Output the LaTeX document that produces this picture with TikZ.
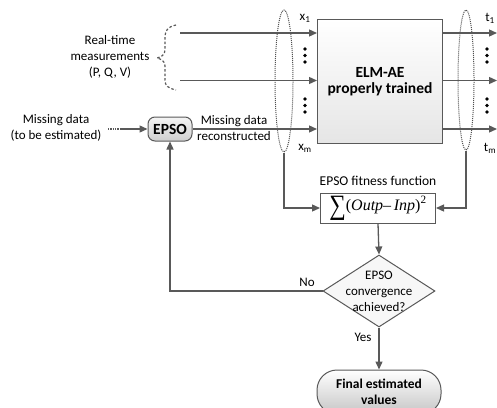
\documentclass[tikz,border=0pt]{standalone}
\usepackage{graphicx}
\usepackage{fontspec}
\setmainfont{Carlito}
\newfontfamily\formulafont{Liberation Serif}
\usetikzlibrary{arrows.meta,shapes.geometric,calc}
\definecolor{ln}{HTML}{595959}
\tikzset{
  conn/.style={draw=ln, line width=1.3pt},
  arr/.style={conn, -{Triangle[length=8pt,width=7pt]}},
  lbl/.style={font=\fontsize{13}{16}\selectfont, align=center, inner sep=0},
  boxline/.style={draw=ln, line width=1pt},
  ring/.style={ellipse, draw=ln!90!black, line width=1pt, densely dotted, inner sep=0},
  dotmark/.style={fill=black},
}
% Enlarged summation sign, vertically centred on the formula
\newcommand{\bigsum}{\raisebox{-0.22\height}{\scalebox{1.45}[1.75]{∑}}}
\begin{document}
\begin{tikzpicture}[x=1pt,y=-1pt]
\useasboundingbox (0,0) rectangle (497,407);

% ELM-AE block
\node[boxline, top color=white, bottom color=black!10, minimum width=125pt,
      minimum height=124pt, inner sep=0, anchor=north west, align=center,
      font=\bfseries\fontsize{15.5}{16.5}\selectfont] (elm) at (317,19)
      {ELM-AE\\properly trained};

% EPSO block
\node[boxline, rounded corners=7pt, top color=gray!8, bottom color=gray!38,
      minimum width=44pt, minimum height=24pt, inner sep=0,
      font=\bfseries\fontsize{15.5}{16}\selectfont] (epso) at (170,129) {EPSO};

% Fitness function block
\node[boxline, fill=white, minimum width=115pt, minimum height=30pt, inner sep=0,
      font=\formulafont\fontsize{16}{16}\selectfont]
      (fit) at (378,208)
      {\bigsum(\textit{Outp}–\,\textit{Inp})\textsuperscript{2}};
\node[lbl, font=\fontsize{13.5}{15}\selectfont] (fitlbl) at (378,181) {EPSO fitness function};

% Convergence test
\node[diamond, boxline, fill=gray!6, minimum width=112pt, minimum height=72pt,
      inner sep=0] (dec) at (379,291) {};
\node[lbl] (dectxt) at (dec.center) {EPSO\\convergence\\achieved?};

% Final result
\node[boxline, rounded corners=20pt, top color=white, bottom color=gray!45,
      minimum width=124pt, minimum height=44pt, inner sep=0, align=center,
      font=\bfseries\fontsize{13.5}{15.5}\selectfont] (final) at (379,392)
      {Final estimated\\values};

% Grouping ellipses
\node[ring, minimum width=18pt, minimum height=142pt] (ellL) at (284,81) {};
\node[ring, minimum width=16pt, minimum height=140pt] (ellR) at (466,80) {};

% Inputs
\coordinate (in1) at (180,33);
\coordinate (in2) at (180,80.5);
\draw[arr] (in1) -- (in1 -| elm.west);
\draw[arr] (in2) -- (in2 -| elm.west);
\draw[arr] (epso.east) -- (epso.east -| elm.west);

% Outputs
\coordinate (out1) at (497,33);
\coordinate (out2) at (497,80.5);
\coordinate (out3) at (497,129);
\draw[arr] (elm.east |- out1) -- (out1);
\draw[arr] (elm.east |- out2) -- (out2);
\draw[arr] (elm.east |- out3) -- (out3);

% Missing data entering the optimiser
\coordinate (md) at (108,129);
\coordinate (mds) at (121,129);
\draw[conn, densely dotted] (md) -- (mds);
\draw[arr] (mds) -- (epso.west);

% Fitness evaluation and loop
\draw[arr] (ellL.south) |- (fit.west);
\draw[arr] (ellR.south) |- (fit.east);
\draw[arr] (fit.south) -- (dec.north);
\draw[arr] (dec.south) -- (final.north);
\draw[arr] (dec.west) -| (epso.south);

% Brace grouping the measurements
\draw[draw=ln, line width=1.2pt, dash pattern=on 2.5pt off 2pt]
  (176,25) .. controls (167,27) and (165,31) .. (165,38) -- (165,50)
  .. controls (165,55) and (161,57) .. (157,58)
  .. controls (161,59) and (165,61) .. (165,66) -- (165,80)
  .. controls (165,86) and (168,88) .. (176,90);

% Vertical ellipsis dots
\foreach \x in {305,487}
  \foreach \y in {49,55.5,62,99,105.5,112}
    \fill[dotmark] (\x,\y) circle (1.9pt);

% Labels
\node[lbl] (rt) at (110,57) {Real-time\\measurements\\(P, Q, V)};
\node[lbl] (mdl) at (56,128) {Missing data\\(to be estimated)};
\node[lbl] (mrl) at (234,128) {Missing data\\reconstructed};
\node[lbl] (x1) at (305,18) {x\textsubscript{1}};
\node[lbl] (xm) at (305,148) {x\textsubscript{m}};
\node[lbl] (t1) at (490,18) {t\textsubscript{1}};
\node[lbl] (tm) at (490,148) {t\textsubscript{m}};
\node[lbl] (no) at (307,282) {No};
\node[lbl] (yes) at (363,337) {Yes};
\end{tikzpicture}
\end{document}
